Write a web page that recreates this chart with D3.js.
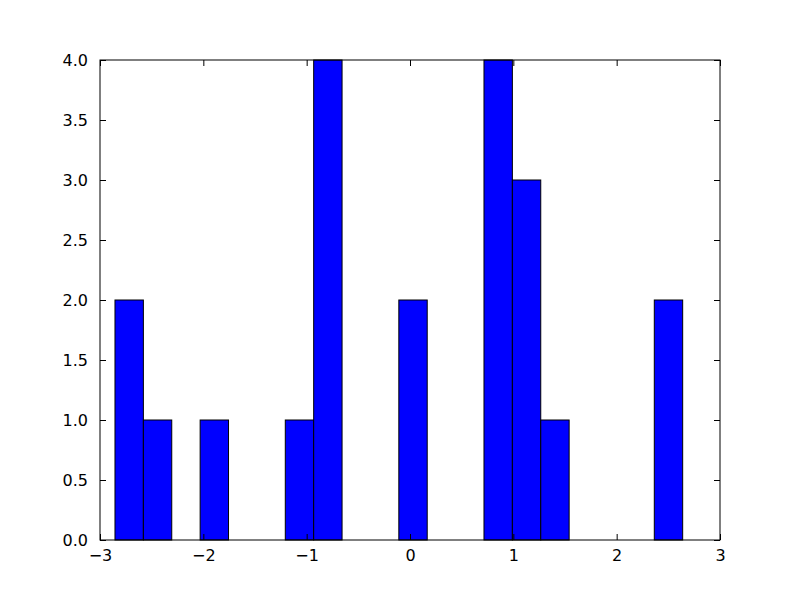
<!DOCTYPE html>
<html><head><meta charset="utf-8">
<script src="https://cdn.jsdelivr.net/npm/d3@7"></script>
<style>body{margin:0;background:#fff}</style>
</head><body>
<svg id="c" width="800" height="600"></svg>
<script>
const binStart = -2.855;
const binWidth = 0.27469;
const counts = [2,1,0,1,0,0,1,4,0,0,2,0,0,4,3,1,0,0,0,2];
const xTicks = [-3,-2,-1,0,1,2,3];
const yTicks = [0,0.5,1,1.5,2,2.5,3,3.5,4];

const svg = d3.select("#c");
const L=100,R=720,T=60,B=540;
const x = d3.scaleLinear().domain([-3,3]).range([L,R]);
const y = d3.scaleLinear().domain([0,4]).range([B,T]);
const bins = counts.map((c,i)=>({x0:binStart+i*binWidth,x1:binStart+(i+1)*binWidth,c}));
svg.append("g").selectAll("rect").data(bins.filter(d=>d.c>0)).join("rect")
  .attr("x",d=>x(d.x0)).attr("width",d=>x(d.x1)-x(d.x0))
  .attr("y",d=>y(d.c)).attr("height",d=>y(0)-y(d.c))
  .attr("fill","#0000ff").attr("stroke","#000").attr("stroke-width",1);

const font = "DejaVu Sans";
const fs = 16;
const tl = 6;
const fmt = d=>d<0?"\u2212"+Math.abs(d):String(d);
// bottom axis
const gb = svg.append("g").attr("transform",`translate(0,${B})`)
  .call(d3.axisBottom(x).tickValues(xTicks).tickSizeInner(-tl).tickSizeOuter(0).tickPadding(10).tickFormat(fmt));
const gt = svg.append("g").attr("transform",`translate(0,${T})`)
  .call(d3.axisTop(x).tickValues(xTicks).tickSizeInner(-tl).tickSizeOuter(0).tickFormat(""));
const gl = svg.append("g").attr("transform",`translate(${L},0)`)
  .call(d3.axisLeft(y).tickValues(yTicks).tickSizeInner(-tl).tickSizeOuter(0).tickPadding(12).tickFormat(d3.format(".1f")));
const gr = svg.append("g").attr("transform",`translate(${R},0)`)
  .call(d3.axisRight(y).tickValues(yTicks).tickSizeInner(-tl).tickSizeOuter(0).tickFormat(""));
[gb,gt,gl,gr].forEach(g=>{
  g.select(".domain").remove();
  g.selectAll("line").attr("stroke","#000");
  g.selectAll("text").attr("font-family",font).attr("font-size",fs).attr("fill","#000");
});
svg.append("rect").attr("x",L).attr("y",T).attr("width",R-L).attr("height",B-T)
  .attr("fill","none").attr("stroke","#000").attr("stroke-width",1);
</script>
</body></html>
